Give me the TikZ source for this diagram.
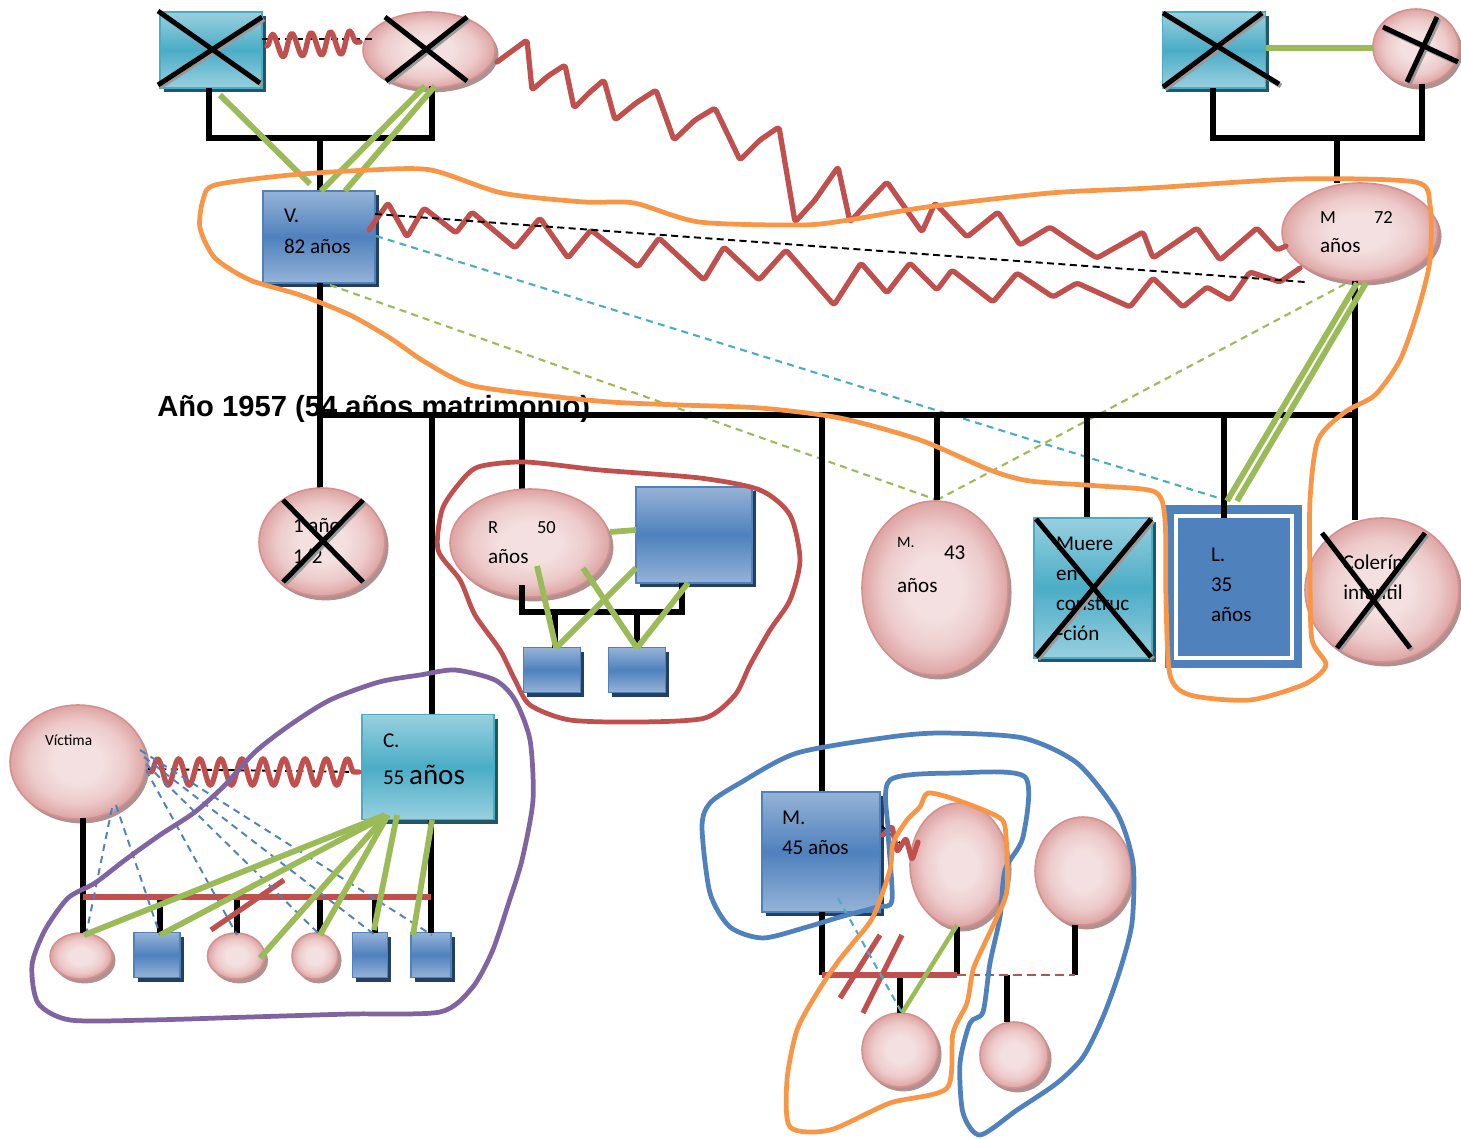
\documentclass[tikz,border=0pt]{standalone}
\usepackage{fontspec}
\setmainfont{Carlito}
\newfontfamily\titlefont{Liberation Sans}
\usetikzlibrary{shapes.geometric,shadows,decorations.pathmorphing}

\definecolor{kblue}{HTML}{4F81BD}
\definecolor{kblueL}{HTML}{95B3D7}
\definecolor{kblueD}{HTML}{243F60}
\definecolor{kteal}{HTML}{4BACC6}
\definecolor{ktealL}{HTML}{98D0DF}
\definecolor{ktealD}{HTML}{205867}
\definecolor{pinkL}{HTML}{F4E0E0}
\definecolor{pinkM}{HTML}{EDCACA}
\definecolor{pinkD}{HTML}{DDA4A3}
\definecolor{pinkB}{HTML}{D4908E}
\definecolor{pinkS}{HTML}{B09190}
\definecolor{zred}{HTML}{C0504D}
\definecolor{zgreen}{HTML}{9BBB59}
\definecolor{zorange}{HTML}{F79646}
\definecolor{zpurple}{HTML}{8064A2}
\definecolor{zcyan}{HTML}{4BACC6}

\pgfdeclareradialshading{pinkglow}{\pgfpoint{0bp}{0bp}}{%
  color(0bp)=(pinkL); color(9bp)=(pinkL); color(18bp)=(pinkM);
  color(25bp)=(pinkD); color(50bp)=(pinkD)}

\tikzset{
  wh/.style 2 args={minimum width={#1*0.02cm}, minimum height={#2*0.02cm}},
  boxbase/.style={rectangle, inner sep=0, outer sep=0, line width=0.9pt},
  bluebox/.style={boxbase, draw=kblue, top color=kblueL, bottom color=kblueL, middle color=kblue,
    drop shadow={shadow xshift=2pt, shadow yshift=-2.5pt, fill=kblueD, opacity=1}},
  tealbox/.style={boxbase, draw=kteal, top color=ktealL, bottom color=ktealL, middle color=kteal,
    drop shadow={shadow xshift=2pt, shadow yshift=-2.5pt, fill=ktealD, opacity=1}},
  pinkell/.style={ellipse, inner sep=0, outer sep=0, draw=pinkB, line width=0.9pt, shading=pinkglow,
    drop shadow={shadow xshift=2pt, shadow yshift=-2.5pt, fill=pinkS, opacity=1}},
  xline/.style={line width=2.8pt, black},
  xshadow/.style={line width=2.8pt, black!40, shift={(2,2)}},
  kin/.style={line width=3pt, black},
  grn/.style={line width=3.3pt, zgreen},
  gdash/.style={line width=1.2pt, zgreen, dash pattern=on 4pt off 3pt},
  cdash/.style={line width=1.2pt, zcyan, dash pattern=on 4pt off 3pt},
  bdash/.style={line width=1.1pt, kblue, dash pattern=on 4pt off 3pt},
  kdash/.style={line width=1.1pt, black, dash pattern=on 4pt off 2.5pt},
  zig/.style 2 args={zred, line width=3pt, line join=round, line cap=round, decorate,
    decoration={snake, segment length=#1, amplitude=#2}},
  jag/.style={zred, line width=3pt, line join=round, line cap=round, rounded corners=1.5pt},
  ring/.style={line width=2.7pt, line join=round},
  lab/.style={anchor=base west, inner sep=0, outer sep=0, font=\fontsize{12}{14}\selectfont},
  labs/.style={lab, font=\fontsize{10.5}{12}\selectfont}
}

% two crossing strokes with a soft offset shadow
\newcommand\xcross[4]{%
  \draw[xshadow] #1 -- #2 #3 -- #4;
  \draw[xline] #1 -- #2 #3 -- #4;}

\begin{document}
\begin{tikzpicture}[x=0.02cm, y=-0.02cm]

\useasboundingbox (0,0) rectangle (1461,1139);

% ---------- title of the marriage ----------
\node[anchor=base west, inner sep=0, font=\titlefont\bfseries\fontsize{16.6}{18}\selectfont]
  (title) at (157,416) {Año 1957 (54 años matrimonio)};

% ---------- grandparents ----------
\node[tealbox, wh={102}{76}] (gf1) at (211,50) {};
\node[pinkell, wh={132}{76}] (gm1) at (429,50) {};
\node[tealbox, wh={103}{76}] (gf2) at (1214,50) {};
\node[pinkell, wh={86}{76}] (gm2) at (1416,47) {};
\xcross{(158,11)}{(260,83)}{(158,85)}{(262,17)}
\xcross{(385,17)}{(467,81)}{(467,17)}{(386,81)}
\xcross{(1163,13)}{(1279,84)}{(1163,87)}{(1262,13)}
\xcross{(1383,27)}{(1458,62)}{(1437,17)}{(1407,82)}

\draw[kdash] (262,39) -- (372,39);
\draw[zig={11pt}{6.5pt}] (267,46) -- (360,42);
\draw[grn] (1266,48) -- (1374,48);

\draw[kin] (209,88) -- (209,138) -- (432,138) -- (432,86);
\draw[kin] (320,138) -- (320,191);
\draw[kin] (1213,88) -- (1213,138) -- (1422,138) -- (1422,84);
\draw[kin] (1337,138) -- (1337,183);

% ---------- the couple ----------
\node[bluebox, wh={112}{92}] (V) at (319,237) {};
\node[lab] (Vt1) at (284,222) {V.};
\node[lab] (Vt2) at (284,253) {82 años};
\node[pinkell, wh={156}{98}] (M72) at (1360,232) {};
\node[labs] (Mt1) at (1320,223) {M};
\node[labs] (Mt2) at (1374,223) {72};
\node[lab] (Mt3) at (1320,252) {años};

\draw[grn] (220,95) -- (310,184);
\draw[grn] (425,86) -- (321,191);
\draw[grn] (435,86) -- (345,191);

% conflict lines: grandmother to M., and V. to M.
\draw[jag] (497,62) -- (527,40) -- (532,90) -- (548,76) -- (565,65) -- (574,108) -- (590,92)
  -- (604,80) -- (615,120) -- (636,103) -- (656,90) -- (674,140) -- (695,120) -- (715,108)
  -- (740,160) -- (760,140) -- (779,127) -- (795,222) -- (815,200) -- (838,167) -- (850,222)
  -- (870,200) -- (887,182) -- (922,232) -- (935,203) -- (967,237) -- (998,212) -- (1020,245)
  -- (1050,227) -- (1075,244) -- (1097,258) -- (1143,232) -- (1153,258) -- (1197,228)
  -- (1220,260) -- (1257,228) -- (1277,250) -- (1286,246);
\draw[jag] (369,230) -- (388,203) -- (407,237) -- (424,208) -- (456,233) -- (472,212)
  -- (515,248) -- (540,218) -- (568,258) -- (591,230) -- (638,267) -- (659,238) -- (704,280)
  -- (724,247) -- (759,280) -- (786,250) -- (834,305) -- (861,263) -- (887,293) -- (910,263)
  -- (937,290) -- (952,270) -- (993,302) -- (1017,273) -- (1053,297) -- (1077,283)
  -- (1130,307) -- (1153,278) -- (1183,307) -- (1207,287) -- (1230,300) -- (1250,272)
  -- (1280,282) -- (1300,268);

\draw[kdash] (375,214) -- (1305,282);
\draw[cdash] (376,236) -- (1225,500);
\draw[gdash] (330,285) -- (937,500);
\draw[gdash] (1345,284) -- (937,500);

% ---------- children of the couple ----------
\draw[kin] (320,283) -- (320,488);
\draw[kin] (319,415) -- (1356,415);
\draw[kin] (1355,281) -- (1355,520);
\draw[kin] (432,415) -- (432,715);
\draw[kin] (522,415) -- (522,490);
\draw[kin] (822,415) -- (822,792);
\draw[kin] (937,415) -- (937,500);
\draw[kin] (1087,415) -- (1087,518);

\node[pinkell, wh={126}{108}] (U) at (322,542) {};
\node[lab] (Ut1) at (293,532) {1 año};
\node[lab] (Ut2) at (293,563) {1/2};
\xcross{(283,500)}{(363,582)}{(363,500)}{(283,582)}

\node[pinkell, wh={160}{108}] (R) at (530,543) {};
\node[labs] (Rt1) at (488,533) {R};
\node[labs] (Rt2) at (537,533) {50};
\node[lab] (Rt3) at (488,563) {años};
\node[bluebox, wh={116}{96}] (RH) at (694,535) {};
\node[bluebox, wh={57}{45}] (RK1) at (552,670) {};
\node[bluebox, wh={57}{45}] (RK2) at (637,670) {};
\draw[kin] (522,585) -- (522,612) -- (682,612) -- (682,583);
\draw[kin] (555,612) -- (555,648);
\draw[kin] (637,612) -- (637,648);
\draw[grn] (610,532) -- (636,530);
\draw[grn] (537,566) -- (556,648);
\draw[grn] (583,568) -- (637,648);
\draw[grn] (636,568) -- (556,648);
\draw[grn] (688,583) -- (637,648);

\node[pinkell, wh={146}{174}] (M43) at (935,588) {};
\node[lab, font=\fontsize{9}{11}\selectfont] (M43t1) at (897,547) {M.};
\node[lab] (M43t2) at (944,559) {43};
\node[lab] (M43t3) at (897,592) {años};

\node[tealbox, wh={118}{140}] (MU) at (1093,588) {};
\node[lab] (MUt1) at (1056,550) {Muere};
\node[lab] (MUt2) at (1056,580) {en};
\node[lab] (MUt3) at (1056,610) {construc};
\xcross{(1036,519)}{(1151,657)}{(1151,519)}{(1036,657)}
\node[lab] (MUt4) at (1057,640) {-ción};

\node[rectangle, fill=kblue, inner sep=0, outer sep=0, wh={137}{163}] (L) at (1233.5,586.5) {};
\draw[white, line width=2.8pt] (1176,516) rectangle (1292,658);
\draw[kin] (1224,415) -- (1224,518);
\node[lab] (Lt1) at (1211,561) {L.};
\node[lab] (Lt2) at (1211,591) {35};
\node[lab] (Lt3) at (1211,621) {años};
\draw[grn] (1357,283) -- (1227,501);
\draw[grn] (1366,283) -- (1237,501);

\node[pinkell, wh={154}{144}] (CO) at (1382,590) {};
\node[lab, anchor=base] (COt1) at (1373,569) {Colerín};
\node[lab, anchor=base] (COt2) at (1373,599) {infantil};
\xcross{(1322,533)}{(1410,648)}{(1425,533)}{(1337,648)}

% ---------- family of C. ----------
\node[pinkell, wh={136}{114}] (VI) at (78,762) {};
\node[lab, font=\fontsize{8.8}{10}\selectfont] (VIt) at (45,745) {Víctima};
\node[tealbox, wh={132}{105}] (C) at (428,767) {};
\node[lab] (Ct1) at (383,747) {C.};
\node[lab] (Ct2) at (383,784) {55 {\fontsize{16.5}{18}\selectfont años}};

\draw[kdash] (148,769) -- (362,772);
\draw[zig={12pt}{7.5pt}] (151,772) -- (359,772);

\node[pinkell, wh={62}{46}] (K1) at (81,956) {};
\node[bluebox, wh={46}{45}] (K2) at (157,955) {};
\node[pinkell, wh={57}{46}] (K3) at (236,956) {};
\node[pinkell, wh={46}{46}] (K4) at (315,956) {};
\node[bluebox, wh={35}{45}] (K5) at (370,955) {};
\node[bluebox, wh={40}{45}] (K6) at (431,955) {};

\draw[kin] (83,818) -- (83,933);
\draw[kin] (431,820) -- (431,933);
\foreach \kx in {160,237,320,375} \draw[kin] (\kx,897) -- (\kx,933);
\draw[zred, line width=3.2pt] (83,897) -- (431,897);
\draw[zred, line width=3pt] (211,930) -- (284,880);

\draw[bdash] (112,808) -- (86,935);
\draw[bdash] (116,805) -- (160,935);
\draw[bdash] (146,770) -- (237,935);
\draw[bdash] (146,764) -- (320,935);
\draw[bdash] (144,757) -- (375,935);
\draw[bdash] (140,750) -- (432,935);

\draw[grn] (385,815) -- (84,935);
\draw[grn] (378,820) -- (160,935);
\draw[grn] (384,818) -- (260,958);
\draw[grn] (388,815) -- (320,935);
\draw[grn] (397,815) -- (374,930);
\draw[grn] (432,820) -- (413,935);

% ---------- family of M. ----------
\node[bluebox, wh={118}{120}] (M45) at (821,852) {};
\node[lab] (M45t1) at (782,824) {M.};
\node[lab] (M45t2) at (782,854) {45 años};
\node[pinkell, wh={98}{124}] (E1) at (959,865) {};
\node[pinkell, wh={96}{108}] (E2) at (1083,871) {};
\node[pinkell, wh={76}{74}] (CA) at (900,1050) {};
\node[pinkell, wh={68}{66}] (CB) at (1014,1055) {};

\draw[kin] (822,912) -- (822,975);
\draw[kin] (957,927) -- (957,975);
\draw[kin] (1075,925) -- (1075,975);
\draw[kin] (900,975) -- (900,1013);
\draw[kin] (1007,975) -- (1007,1022);
\draw[zred, line width=3pt] (822,975) -- (957,975);
\draw[zred, line width=1.3pt, dash pattern=on 5pt off 3pt] (957,975) -- (1075,975);
\draw[zred, line width=3pt] (880,935) -- (840,998);
\draw[zred, line width=3pt] (902,935) -- (863,1013);
\draw[cdash] (838,898) -- (902,1013);
\draw[zgreen, line width=2.6pt] (957,925) -- (902,1013);
\draw[kdash] (882,826) -- (903,846);
\draw[jag] (883,835) -- (892,826) -- (897,852) -- (906,838) -- (912,860) -- (918,842);

% ---------- enclosing rings ----------
\draw[ring, zorange] plot[smooth cycle, tension=0.45] coordinates {
  (215,185) (290,175) (370,170) (431,170) (502,193) (584,202) (634,203) (699,222)
  (802,225) (849,220) (927,207) (1050,193) (1150,188) (1297,179) (1415,182)
  (1430,205) (1430,260) (1418,310) (1400,360) (1375,395) (1345,412) (1318,440)
  (1310,500) (1310,580) (1312,640) (1326,665) (1305,684) (1250,700) (1190,695)
  (1170,675) (1166,600) (1165,520) (1155,492) (1100,486) (1030,481) (990,470)
  (920,440) (840,418) (760,408) (680,405) (610,402) (540,395) (470,385) (425,362)
  (390,338) (350,315) (300,295) (250,280) (215,258) (200,228) (203,200)};

\draw[ring, zred] plot[smooth cycle, tension=0.45] coordinates {
  (478,467) (525,462) (600,470) (700,478) (760,490) (790,515) (800,560) (790,600)
  (770,630) (750,665) (735,695) (705,718) (640,722) (570,720) (530,705) (515,680)
  (500,650) (475,615) (460,580) (438,550) (442,510) (458,485)};

\draw[ring, zpurple] plot[smooth cycle, tension=0.45] coordinates {
  (379,682) (330,700) (290,725) (255,752) (225,785) (195,812) (160,835) (125,860)
  (95,883) (68,898) (45,930) (32,965) (38,1003) (70,1020) (150,1020) (250,1017)
  (350,1014) (440,1012) (472,988) (492,952) (508,905) (522,860) (533,800) (530,740)
  (515,700) (495,680) (455,670) (420,675)};

\draw[ring, kblue] plot[smooth cycle, tension=0.45] coordinates {
  (702,827) (710,803) (740,783) (797,753) (890,737) (943,733) (1023,738) (1077,763)
  (1117,813) (1133,863) (1132,923) (1120,970) (1103,1017) (1083,1057) (1057,1083)
  (1017,1110) (980,1135) (963,1113) (960,1063) (970,1023) (983,1012) (990,963)
  (1000,917) (1005,870) (1023,837) (1025,777) (957,773) (890,780) (888,830)
  (892,900) (877,907) (840,917) (807,927) (763,938) (730,927) (710,893)};

\draw[ring, zorange] plot[smooth cycle, tension=0.45] coordinates {
  (928,793) (957,800) (1000,818) (1006,837) (1007,890) (997,917) (983,947) (973,970)
  (967,1003) (953,1033) (947,1088) (890,1103) (830,1130) (790,1127) (787,1080)
  (797,1030) (817,993) (837,963) (853,943) (873,917) (890,870) (893,843) (907,820)
  (920,807)};

\end{tikzpicture}
\end{document}
